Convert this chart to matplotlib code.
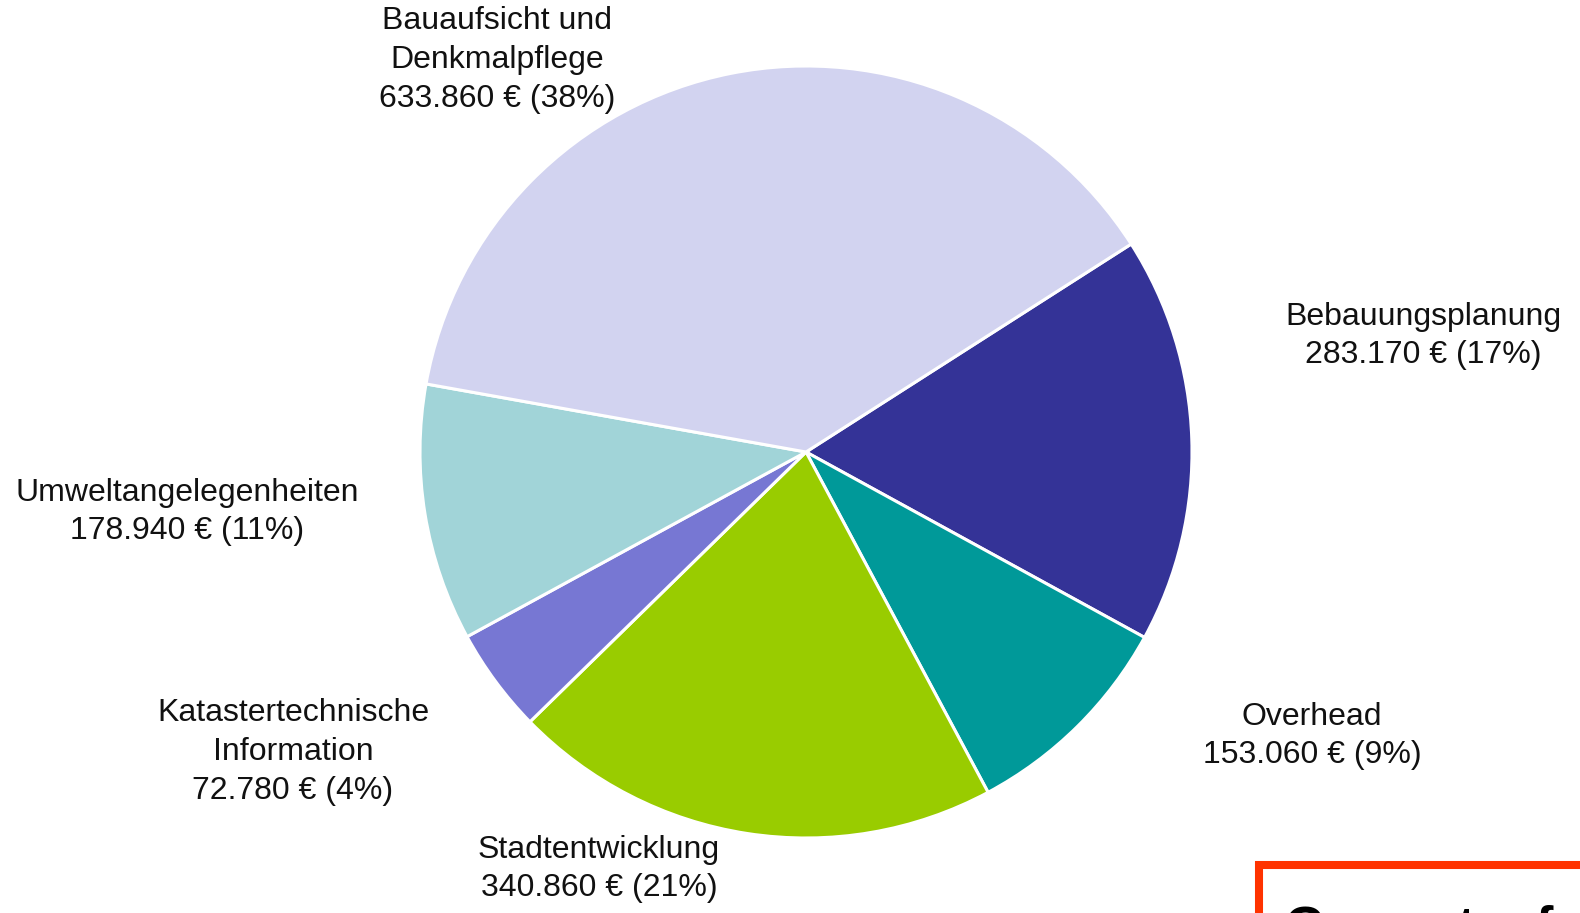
import matplotlib
matplotlib.use("Agg")
from matplotlib import pyplot as plt
from matplotlib.patches import Rectangle

plt.rcParams['font.family'] = ['Liberation Sans', 'DejaVu Sans']

# data, in drawing order (clockwise from upper right)
categories = ["Bebauungsplanung", "Overhead", "Stadtentwicklung",
              "Katastertechnische\nInformation", "Umweltangelegenheiten",
              "Bauaufsicht und\nDenkmalpflege"]
values = [283170, 153060, 340860, 72780, 178940, 633860]
colors = ["#343397", "#009999", "#99CC00", "#7777D3", "#A1D4D8", "#D2D3F0"]

W, H = 1580, 913
fig = plt.figure(figsize=(W / 100, H / 100), dpi=100)
ax = fig.add_axes([0, 0, 1, 1])

cx, cy, r = 806, H - 452, 386
ax.pie(values, colors=colors, startangle=32.6, counterclock=False,
       center=(cx, cy), radius=r,
       wedgeprops=dict(edgecolor="white", linewidth=2.2))

# label positions (pixel coords, y from top)
label_pos = [(1423, 336), (1312, 736), (599, 869), (293, 752), (187, 512), (497, 60)]
total = sum(values)


def fmt(v):
    return "{:,}".format(v).replace(",", ".")


for name, v, (x, y) in zip(categories, values, label_pos):
    txt = name + "\n" + fmt(v) + " € (" + str(round(v / total * 100)) + "%)"
    ax.text(x, H - y, txt, ha="center", va="center", fontsize=23,
            linespacing=1.37, color="#111111")

# red box cut off at the bottom right
ax.add_patch(Rectangle((1259, -50), 400, H - 865 + 50, fill=False,
                       edgecolor="#FF3300", linewidth=5.8, clip_on=False))
ax.text(1285, H - 904, "Gesamtaufwand", ha="left", va="top", fontsize=37.5,
        fontweight="bold", color="black")

ax.set_xlim(0, W)
ax.set_ylim(0, H)
ax.set_aspect("auto")
ax.axis("off")

fig.savefig("out.png", dpi=100)
